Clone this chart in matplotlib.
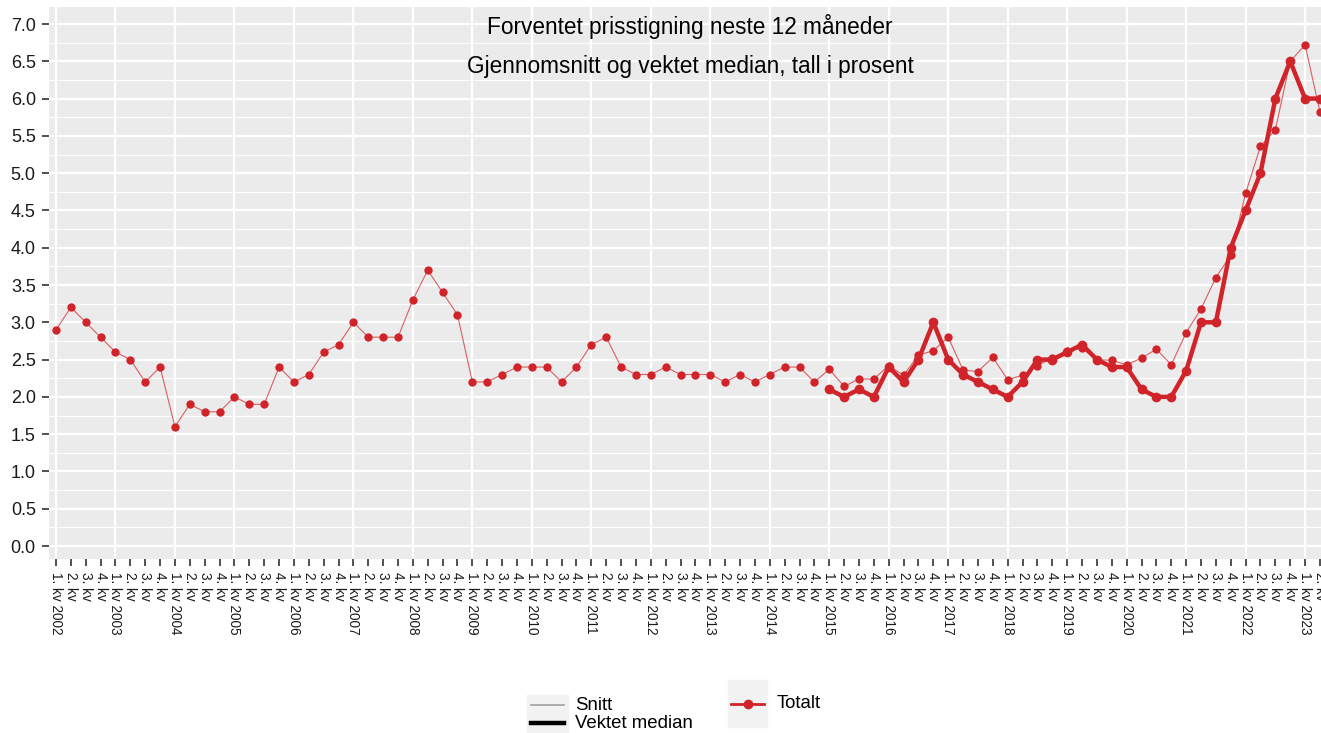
import numpy as np
import matplotlib
matplotlib.use("Agg")
import matplotlib.pyplot as plt
from matplotlib.lines import Line2D
from matplotlib.patches import Rectangle

plt.rcParams['font.family'] = ['Liberation Sans', 'DejaVu Sans']

# quarters 1. kv 2002 .. 2. kv 2023
years = list(range(2002, 2024))
quarter_labels = []
for y in years:
    for q in range(1, 5):
        if y == 2023 and q > 2:
            break
        quarter_labels.append(f"{q}. kv {y}" if q == 1 else f"{q}. kv")

# Snitt (average), all quarters
snitt = [2.9, 3.2, 3.0, 2.8,
         2.6, 2.5, 2.2, 2.4,
         1.6, 1.9, 1.8, 1.8,
         2.0, 1.9, 1.9, 2.4,
         2.2, 2.3, 2.6, 2.7,
         3.0, 2.8, 2.8, 2.8,
         3.3, 3.7, 3.4, 3.1,
         2.2, 2.2, 2.3, 2.4,
         2.4, 2.4, 2.2, 2.4,
         2.7, 2.8, 2.4, 2.3,
         2.3, 2.4, 2.3, 2.3,
         2.3, 2.2, 2.3, 2.2,
         2.3, 2.4, 2.4, 2.2,
         2.37, 2.14, 2.24, 2.24,
         2.42, 2.29, 2.56, 2.62,
         2.80, 2.36, 2.34, 2.53,
         2.23, 2.29, 2.42, 2.52,
         2.62, 2.65, 2.50, 2.49,
         2.43, 2.52, 2.64, 2.43,
         2.86, 3.18, 3.60, 3.90,
         4.73, 5.36, 5.58, 6.50,
         6.72, 5.82]

# Vektet median, from 1. kv 2015
median_start = 52
median = [2.1, 2.0, 2.1, 2.0,
          2.4, 2.2, 2.5, 3.0,
          2.5, 2.3, 2.2, 2.1,
          2.0, 2.2, 2.5, 2.5,
          2.6, 2.7, 2.5, 2.4,
          2.4, 2.1, 2.0, 2.0,
          2.35, 3.0, 3.0, 4.0,
          4.5, 5.0, 6.0, 6.5,
          6.0, 6.0]

red = '#D0232A'

W, H = 1321, 733
fig = plt.figure(figsize=(W / 100, H / 100), dpi=100)
ax = fig.add_axes([49 / W, 1 - 559 / H, (W - 49) / W, (559 - 7) / H])
ax.set_facecolor('#EBEBEB')
for s in ax.spines.values():
    s.set_visible(False)

x_all = np.arange(len(snitt))
x_med = np.arange(median_start, median_start + len(median))

ax.plot(x_all, snitt, color=red, lw=0.8, alpha=0.7, zorder=3)
ax.plot(x_all, snitt, 'o', color=red, ms=6, mew=0, zorder=3)
ax.plot(x_med, median, color=red, lw=3.2, zorder=4, solid_joinstyle='round')
ax.plot(x_med, median, 'o', color=red, ms=7, mew=0, zorder=4)

ax.set_xlim(-0.47, 85.07)
ax.set_ylim(-0.174, 7.228)

# gridlines
ax.set_yticks(np.arange(0, 7.01, 0.5))
ax.set_yticks(np.arange(0.25, 7.2, 0.5), minor=True)
ax.set_yticklabels([f"{v:.1f}" for v in np.arange(0, 7.01, 0.5)])
ax.grid(which='major', axis='y', color='white', lw=1.6)
ax.grid(which='minor', axis='y', color='white', lw=0.8)
for i, lab in enumerate(quarter_labels):
    if lab.startswith('1.'):
        ax.axvline(i, color='white', lw=1.6, zorder=1)
ax.set_axisbelow(True)

ax.set_xticks(x_all)
ax.set_xticklabels(quarter_labels, rotation=-90, fontsize=9.8, color='#1A1A1A',
                   va='top', ha='center')
ax.tick_params(axis='x', length=5, width=1.2, color='#333333', pad=4)
ax.tick_params(axis='y', which='major', length=5, width=1.2, color='#333333',
               labelsize=13, labelcolor='#1A1A1A', pad=4.5)
ax.tick_params(axis='y', which='minor', length=0)

ax.text(0.504, 0.965, 'Forventet prisstigning neste 12 måneder', transform=ax.transAxes,
        ha='center', va='center', fontsize=16.3)
ax.text(0.504, 0.893, 'Gjennomsnitt og vektet median, tall i prosent', transform=ax.transAxes,
        ha='center', va='center', fontsize=16.3)

# legends drawn in figure pixel coordinates
def fx(px):
    return px / W

def fy(py):
    return 1 - py / H

fig.patches.append(Rectangle((fx(527), fy(733)), fx(568) - fx(527), fy(695) - fy(733),
                             transform=fig.transFigure, color='#F2F2F2', zorder=0))
fig.lines.append(Line2D([fx(531), fx(564)], [fy(705), fy(705)], transform=fig.transFigure,
                        color='#A0A0A0', lw=1.2))
fig.lines.append(Line2D([fx(531), fx(564)], [fy(723), fy(723)], transform=fig.transFigure,
                        color='black', lw=3.2))
fig.text(fx(575), fy(706), 'Snitt', ha='left', va='center', fontsize=13.4)
fig.text(fx(575), fy(724), 'Vektet median', ha='left', va='center', fontsize=13.4)

fig.patches.append(Rectangle((fx(728), fy(727)), fx(767) - fx(728), fy(680) - fy(727),
                             transform=fig.transFigure, color='#F2F2F2', zorder=0))
fig.lines.append(Line2D([fx(731), fx(747.5), fx(764)], [fy(704)] * 3,
                        transform=fig.transFigure, color=red, lw=2, marker='o',
                        markevery=[1], ms=6))
fig.text(fx(777), fy(704), 'Totalt', ha='left', va='center', fontsize=13.4)

fig.savefig('out.png', dpi=100)
